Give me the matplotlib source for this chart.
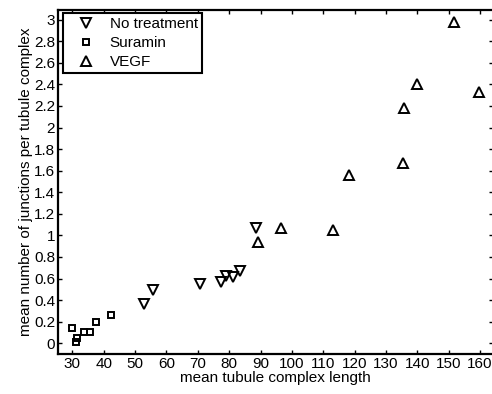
import matplotlib
matplotlib.use("Agg")
import matplotlib.pyplot as plt
import numpy as np

# mean tubule complex length vs. mean junctions per complex, by treatment
none_x = [52.9, 55.6, 70.7, 77.4, 78.9, 81.3, 83.4, 88.4]
none_y = [0.36, 0.49, 0.55, 0.57, 0.62, 0.61, 0.67, 1.07]

suramin_x = [29.9, 31.3, 31.4, 33.8, 35.6, 37.5, 42.2]
suramin_y = [0.14, 0.015, 0.046, 0.10, 0.10, 0.20, 0.265]

vegf_x = [89.1, 96.6, 113.1, 118.3, 135.3, 135.7, 139.8, 151.6, 159.8]
vegf_y = [0.94, 1.07, 1.05, 1.56, 1.67, 2.18, 2.40, 2.98, 2.33]

x_ticks = np.arange(30, 161, 10)
y_ticks = np.round(np.arange(0, 3.01, 0.2), 1)

plt.rcParams["font.family"] = "Liberation Sans"
plt.rcParams["font.size"] = 11

fig = plt.figure(figsize=(4.92, 3.94), dpi=100)
ax = fig.add_axes([58 / 492, 40 / 394, 435.5 / 492, 344 / 394])

style = dict(linestyle="none", markerfacecolor="none", markeredgecolor="black",
             markeredgewidth=1.4)
ax.plot(none_x, none_y, marker="v", markersize=6.5, label="No treatment", **style)
ax.plot(suramin_x, suramin_y, marker="s", markersize=4.5, label="Suramin", **style)
ax.plot(vegf_x, vegf_y, marker="^", markersize=6.5, label="VEGF", **style)

ax.set_xlim(25.4, 164.3)
ax.set_ylim(-0.1, 3.09)
ax.set_xticks(x_ticks)
ax.set_yticks(y_ticks, [f"{v:g}" for v in y_ticks])
ax.tick_params(direction="in", length=3, width=1, top=True, right=True, pad=2,
               labelsize=11)
for side in ["left", "bottom", "top", "right"]:
    ax.spines[side].set_linewidth(1.6)

ax.set_xlabel("mean tubule complex length", labelpad=0)
ax.set_ylabel("mean number of junctions per tubule complex", labelpad=1)

leg = ax.legend(loc="upper left", bbox_to_anchor=(0.012, 0.99), fancybox=False,
                framealpha=1, edgecolor="black", borderpad=0.25, labelspacing=0.33,
                handletextpad=0.3, handlelength=2.5, borderaxespad=0)
leg.get_frame().set_linewidth(1.5)

fig.savefig("out.png", dpi=100)
